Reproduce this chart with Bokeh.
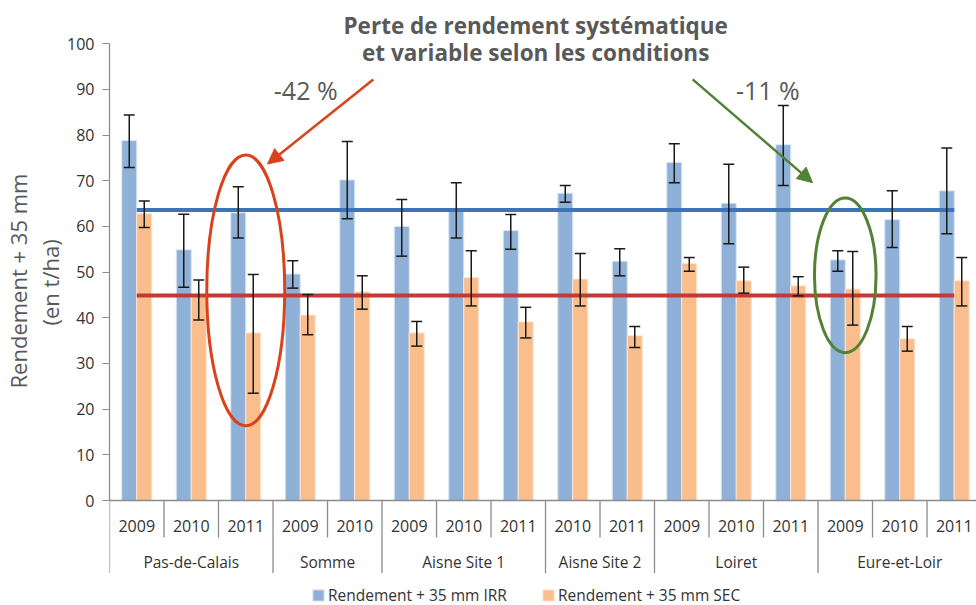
from bokeh.plotting import figure
from bokeh.models import (Range1d, ColumnDataSource, Whisker, TeeHead, Arrow, NormalHead,
                          Label, Legend, LegendItem, FixedTicker, Title)
from bokeh.embed import file_html
from bokeh.resources import INLINE
from bokeh.core.properties import value

# ---------------- data ----------------
regions = ["Pas-de-Calais", "Somme", "Aisne Site 1", "Aisne Site 2", "Loiret", "Eure-et-Loir"]
region_years = [["2009", "2010", "2011"], ["2009", "2010"], ["2009", "2010", "2011"],
                ["2010", "2011"], ["2009", "2010", "2011"], ["2009", "2010", "2011"]]

irr = [78.8, 54.9, 63.0, 49.6, 70.2, 60.0, 63.8, 59.1, 67.3, 52.4, 74.0, 65.1, 77.9, 52.7, 61.5, 67.8]
irr_low = [72.9, 46.7, 57.5, 46.5, 61.7, 53.5, 57.5, 55.0, 65.3, 49.2, 69.6, 56.2, 69.0, 50.2, 55.4, 58.4]
irr_high = [84.4, 62.7, 68.7, 52.5, 78.6, 65.9, 69.6, 62.6, 69.0, 55.1, 78.1, 73.6, 86.5, 54.7, 67.8, 77.2]
sec = [62.8, 45.0, 36.7, 40.6, 45.7, 36.7, 48.8, 39.1, 48.5, 36.1, 51.9, 48.1, 47.0, 46.3, 35.4, 48.1]
sec_low = [59.8, 39.5, 23.5, 36.3, 41.9, 33.8, 42.6, 35.6, 42.6, 33.5, 50.2, 45.4, 44.8, 38.4, 32.7, 42.6]
sec_high = [65.6, 48.3, 49.5, 45.1, 49.2, 39.2, 54.7, 42.3, 54.1, 38.1, 53.2, 51.1, 49.0, 54.5, 38.1, 53.2]
mean_irr = 63.6
mean_sec = 44.9

label_irr = "Rendement + 35 mm IRR"
label_sec = "Rendement + 35 mm SEC"
y_title = ["Rendement + 35 mm", "(en t/ha)"]
title_lines = ["Perte de rendement systématique", "et variable selon les conditions"]
loss_left = "-42 %"
loss_right = "-11 %"

# ---------------- derived positions ----------------
years = [y for ys in region_years for y in ys]
n = len(years)
xs = list(range(n))
off = 0.1375
bw = 0.275
x_irr = [x - off for x in xs]
x_sec = [x + off for x in xs]

src_irr = ColumnDataSource(dict(x=x_irr, top=irr, lo=irr_low, hi=irr_high))
src_sec = ColumnDataSource(dict(x=x_sec, top=sec, lo=sec_low, hi=sec_high))

FONT = "Open Sans"
GREY_TXT = "#595959"
DARK_TXT = "#333333"
AXIS_C = "#8C8C8C"

p = figure(width=976, height=605,
           x_range=Range1d(-0.5, 15.408), y_range=Range1d(-22.99, 109.48),
           x_axis_location=None,
           output_backend="svg", toolbar_location=None,
           min_border_left=109, min_border_right=0, min_border_top=0, min_border_bottom=0)
p.outline_line_color = None
p.grid.visible = False
p.background_fill_color = "white"

# bars
r_irr = p.vbar(x="x", top="top", width=bw, bottom=0, source=src_irr,
               fill_color="#8FB0D7", line_color="#DCE6F2", line_width=1)
r_sec = p.vbar(x="x", top="top", width=bw, bottom=0, source=src_sec,
               fill_color="#F9BE8C", line_color="#FCE4D2", line_width=1)

# mean lines
p.line(x=[xs[0], xs[-1]], y=[mean_irr, mean_irr], line_color="#3D74B9", line_width=4)
p.line(x=[xs[0], xs[-1]], y=[mean_sec, mean_sec], line_color="#BE3B37", line_width=4)

# error bars
for s in (src_irr, src_sec):
    w = Whisker(source=s, base="x", lower="lo", upper="hi",
                line_color="#1a1a1a", line_width=1.5, level="annotation",
                upper_head=TeeHead(size=11, line_color="#1a1a1a", line_width=1.5),
                lower_head=TeeHead(size=11, line_color="#1a1a1a", line_width=1.5))
    p.add_layout(w)

# y axis
ax = p.yaxis[0]
ax.ticker = FixedTicker(ticks=list(range(0, 101, 10)))
ax.bounds = (0, 100)
ax.major_tick_out = 7
ax.major_tick_in = 0
ax.minor_tick_out = 0
ax.minor_tick_in = 0
ax.axis_line_color = AXIS_C
ax.axis_line_width = 1.3
ax.major_tick_line_color = AXIS_C
ax.major_label_text_font = FONT
ax.major_label_text_font_size = "16px"
ax.major_label_text_color = DARK_TXT
ax.major_label_standoff = 8

# y axis title: two rotated lines in the left panel (first added = nearest the axis)
p.add_layout(Title(text=y_title[1], align="left", offset=280, standoff=0,
                   text_font=FONT, text_font_size="22px", text_font_style="normal",
                   text_color=GREY_TXT), "left")
p.add_layout(Title(text=y_title[0], align="left", offset=217, standoff=0,
                   text_font=FONT, text_font_size="22px", text_font_style="normal",
                   text_color=GREY_TXT), "left")

# category axis (drawn in data space below 0)
p.segment(x0=[-0.5], y0=[0], x1=[n - 0.5], y1=[0], line_color=AXIS_C, line_width=1.3)
bounds_idx = [0]
for ys in region_years:
    bounds_idx.append(bounds_idx[-1] + len(ys))
long_b = set(bounds_idx)
sx, sy0, sy1 = [], [], []
for b in range(n + 1):
    sx.append(b - 0.5)
    sy0.append(0)
    sy1.append(-15.9 if b in long_b else -8.1)
p.segment(x0=sx, y0=sy0, x1=sx, y1=sy1, line_color=AXIS_C, line_width=1.3)

p.text(x=xs, y=[-5.5] * n, text=years, text_align="center", text_baseline="middle",
       text_font=value(FONT), text_font_size="16px", text_color=DARK_TXT)
reg_x = [(bounds_idx[i] + bounds_idx[i + 1] - 1) / 2 for i in range(len(regions))]
p.text(x=reg_x, y=[-13.4] * len(regions), text=regions, text_align="center",
       text_baseline="middle", text_font=value(FONT), text_font_size="15.5px",
       text_color=DARK_TXT)

# annotations
p.add_layout(Label(x=7.32, y=104.0, text=title_lines[0], text_align="center",
                   text_baseline="middle", text_font=FONT, text_font_size="22.5px",
                   text_font_style="bold", text_color=GREY_TXT))
p.add_layout(Label(x=7.32, y=98.0, text=title_lines[1], text_align="center",
                   text_baseline="middle", text_font=FONT, text_font_size="22.5px",
                   text_font_style="bold", text_color=GREY_TXT))
p.add_layout(Label(x=3.10, y=89.8, text=loss_left, text_align="center",
                   text_baseline="middle", text_font=FONT, text_font_size="25px",
                   text_color=GREY_TXT))
p.add_layout(Label(x=11.58, y=89.8, text=loss_right, text_align="center",
                   text_baseline="middle", text_font=FONT, text_font_size="25px",
                   text_color=GREY_TXT))

red = "#D8431E"
green = "#538135"
i_red = years.index("2011")            # Pas-de-Calais 2011
i_green = bounds_idx[5]                # Eure-et-Loir 2009
p.ellipse(x=[i_red], y=[46.0], width=1.43, height=59.3, fill_alpha=0,
          line_color=red, line_width=3)
p.ellipse(x=[i_green], y=[49.3], width=1.13, height=33.9, fill_alpha=0,
          line_color=green, line_width=3)
p.add_layout(Arrow(x_start=4.34, y_start=92.2, x_end=2.40, y_end=73.7,
                   line_color=red, line_width=2.5,
                   end=NormalHead(size=15, fill_color=red, line_color=red)))
p.add_layout(Arrow(x_start=10.20, y_start=92.2, x_end=12.40, y_end=69.6,
                   line_color=green, line_width=2.5,
                   end=NormalHead(size=15, fill_color=green, line_color=green)))

# legend
legend = Legend(items=[LegendItem(label=label_irr, renderers=[r_irr]),
                       LegendItem(label=label_sec, renderers=[r_sec])],
                orientation="horizontal", location=(202, -1),
                glyph_width=14, glyph_height=14, label_standoff=3, spacing=34,
                padding=0, margin=0, border_line_alpha=0, background_fill_alpha=0,
                label_text_font=FONT, label_text_font_size="15.5px",
                label_text_color=DARK_TXT)
p.add_layout(legend)

open("out.html", "w").write(file_html(p, INLINE))
